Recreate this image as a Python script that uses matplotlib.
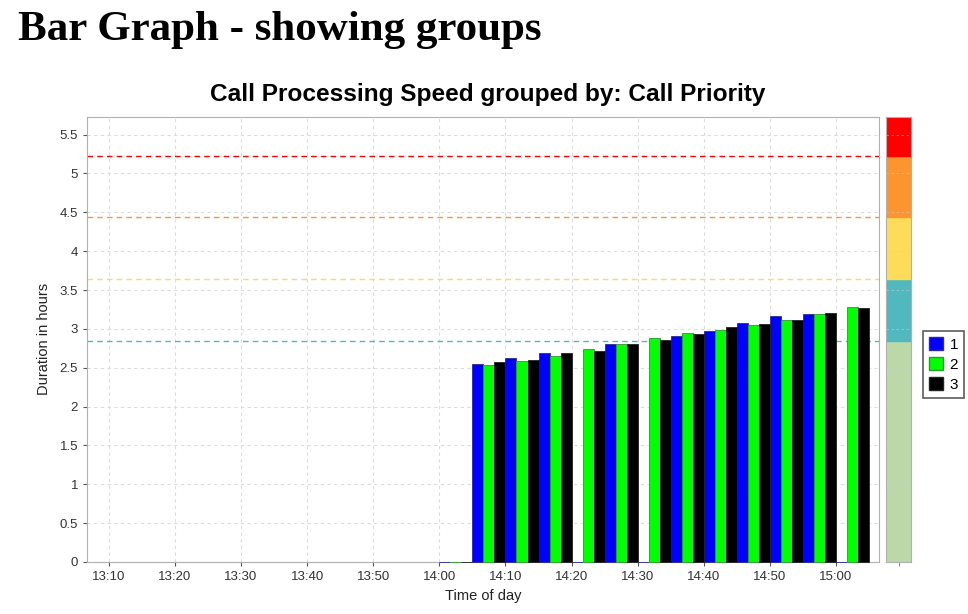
import matplotlib
matplotlib.use('Agg')
import matplotlib.pyplot as plt
from matplotlib.patches import Patch

# data
times = ['14:00', '14:05', '14:10', '14:15', '14:20', '14:25', '14:30',
         '14:35', '14:40', '14:45', '14:50', '14:55', '15:00']
priority_1 = [0, 2.55, 2.62, 2.69, 0, 2.81, 0, 2.91, 2.97, 3.07, 3.16, 3.19, 0]
priority_2 = [0, 2.53, 2.59, 2.65, 2.74, 2.81, 2.88, 2.95, 2.99, 3.05, 3.11, 3.19, 3.28]
priority_3 = [0, 2.57, 2.60, 2.69, 2.72, 2.81, 2.86, 2.93, 3.02, 3.06, 3.12, 3.20, 3.27]
series_labels = ['1', '2', '3']

thresholds = [2.84, 3.64, 4.44, 5.22]
band_colors = ['#bbd9a8', '#50b8be', '#fcdc58', '#fb9530', '#ff0000']

x_ticks = ['13:10', '13:20', '13:30', '13:40', '13:50', '14:00',
           '14:10', '14:20', '14:30', '14:40', '14:50', '15:00']
y_ticks = [0, 0.5, 1, 1.5, 2, 2.5, 3, 3.5, 4, 4.5, 5, 5.5]


def to_min(s):
    h, m = s.split(':')
    return int(h) * 60 + int(m)


plt.rcParams['font.family'] = ['Liberation Sans', 'DejaVu Sans']

W, H = 968, 614
fig = plt.figure(figsize=(W / 100, H / 100), dpi=100)
fig.patch.set_facecolor('white')

y_top = 5.73
ax = fig.add_axes([87 / W, (H - 562) / H, 792 / W, 445.3 / H])

starts = [to_min(t) for t in times]
period = 5
bw = period / 3
colors = ['#0000ff', '#00ff00', '#000000']
edges = ['#2a2a9a', '#2a9a2a', '#222222']
series = [priority_1, priority_2, priority_3]
for i, vals in enumerate(series):
    ax.bar([s + i * bw for s in starts], vals, width=bw, align='edge',
           color=colors[i], edgecolor=edges[i], linewidth=0.6, zorder=3, clip_on=False)

line_colors = band_colors[1:]
for th, c in zip(thresholds, line_colors):
    ax.axhline(th, color=c, linestyle=(0, (4, 3)), linewidth=1, zorder=2)

ax.set_xlim(to_min('13:06') + 0.7, to_min('15:06') + 0.5)
ax.set_ylim(0, y_top)
ax.set_xticks([to_min(t) for t in x_ticks])
ax.set_xticklabels(x_ticks)
ax.set_yticks(y_ticks)
ax.set_yticklabels([f'{v:g}' for v in y_ticks])
ax.tick_params(labelsize=9.5, colors='#555555', length=3, width=0.8)
ax.tick_params(axis='both', labelcolor='#333333')
ax.grid(True, color='#dcdcdc', linestyle=(0, (3, 3)), linewidth=0.8, zorder=0)
for sp in ax.spines.values():
    sp.set_color('#b0b0b0')

ax.set_xlabel('Time of day', fontsize=10.5, color='#222222', labelpad=4)
ax.set_ylabel('Duration in hours', fontsize=10.5, color='#222222', labelpad=6)

# colour scale on the right
cax = fig.add_axes([886 / W, (H - 562) / H, 25 / W, 445.3 / H])
bounds = [0] + thresholds + [y_top]
for lo, hi, c in zip(bounds[:-1], bounds[1:], band_colors):
    cax.axhspan(lo, hi, color=c, zorder=1)
cax.set_ylim(0, y_top)
cax.set_xlim(0, 1)
cax.set_yticks(y_ticks)
cax.set_xticks([0.5])
cax.set_xticklabels([''])
cax.tick_params(axis='y', length=0, labelleft=False)
cax.tick_params(axis='x', length=3, colors='#888888')
cax.grid(True, axis='y', color='#cfcfcf', linestyle=(0, (3, 3)), linewidth=0.6, alpha=0.6, zorder=2)
for sp in cax.spines.values():
    sp.set_color('#b0b0b0')

handles = [Patch(facecolor=colors[i], edgecolor=edges[i], label=series_labels[i]) for i in range(3)]
leg = fig.legend(handles=handles, loc='upper left', bbox_to_anchor=(923 / W, 1 - 331 / H),
                 fancybox=False, frameon=True, fontsize=11, handlelength=0.9, handleheight=0.9,
                 handletextpad=0.45, borderpad=0.4, labelspacing=0.35, borderaxespad=0)
leg.get_frame().set_edgecolor('#333333')
leg.get_frame().set_linewidth(1.2)

fig.text(18 / W, 1 - 40 / H, 'Bar Graph - showing groups', fontsize=31, fontweight='bold',
         family=['Liberation Serif', 'DejaVu Serif'], va='baseline', ha='left')
fig.text(488 / W, 1 - 101 / H, 'Call Processing Speed grouped by: Call Priority', fontsize=17.6,
         fontweight='bold', va='baseline', ha='center')

fig.savefig('out.png', dpi=100)
